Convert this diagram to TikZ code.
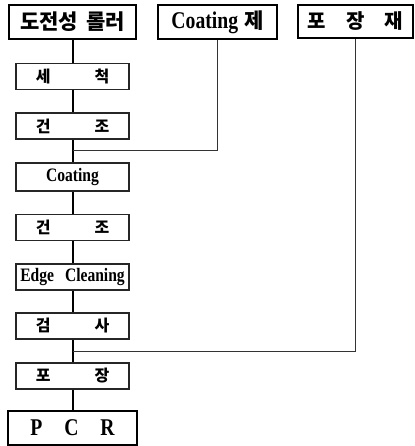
\documentclass[tikz,border=0pt]{standalone}
\usepackage{fontspec}
\setmainfont{Liberation Serif}
\newfontfamily\tnr[FakeStretch=0.82]{Liberation Serif}
\newfontfamily\kr{Noto Sans CJK KR}
\begin{document}
\begin{tikzpicture}[x=1pt,y=-1pt,
  bigbox/.style={draw=black,line width=1.6pt,inner sep=0pt,minimum height=34pt},
  smallbox/.style={draw=black!85,line width=1.3pt,inner sep=0pt,minimum width=113pt,minimum height=26pt},
  mainline/.style={line width=2pt,black},
  sideline/.style={line width=1pt,black!80},
  krbig/.style={font=\kr\bfseries\fontsize{21}{21}\selectfont},
  krsmall/.style={font=\kr\bfseries\fontsize{16}{16}\selectfont},
  lat/.style={font=\tnr\bfseries\fontsize{19}{19}\selectfont},
  latbig/.style={font=\tnr\bfseries\fontsize{24}{24}\selectfont}]
\useasboundingbox (0,0) rectangle (414,446);
\node[bigbox,minimum width=127pt,krbig] (roller) at (72.5,22) {도전성\hspace{8pt}롤러};
\node[bigbox,minimum width=119pt] (coatmat) at (217.5,22) {{\tnr\bfseries\fontsize{24}{24}\selectfont Coating}\hspace{6pt}{\kr\bfseries\fontsize{21}{21}\selectfont 제}};
\node[bigbox,minimum width=115pt,minimum height=33pt] (packmat) at (355.5,21.5) {{\kr\bfseries\fontsize{20}{20}\selectfont 포\hspace{20pt}장\hspace{20pt}재}};
\node[smallbox,krsmall] (wash) at (72.5,76.5) {세\hspace{44pt}척};
\node[smallbox,krsmall] (dry1) at (72.5,126) {건\hspace{44pt}조};
\node[smallbox,minimum height=28pt,lat] (coating) at (72.5,177) {Coating};
\node[smallbox,krsmall] (dry2) at (72.5,227.5) {건\hspace{44pt}조};
\node[smallbox,lat] (edge) at (72.5,277) {Edge\hspace{11pt}Cleaning};
\node[smallbox,krsmall] (insp) at (72.5,326) {검\hspace{44pt}사};
\node[smallbox,krsmall] (pack) at (72.5,376) {포\hspace{44pt}장};
\node[bigbox,minimum width=129pt,latbig] (pcr) at (72.5,428) {P\hspace{22pt}C\hspace{22pt}R};
\coordinate (j1) at (72.5,151);
\coordinate (j2) at (72.5,351);
\draw[mainline] (roller.south) -- (wash.north);
\draw[mainline] (wash.south) -- (dry1.north);
\draw[mainline] (dry1.south) -- (coating.north);
\draw[mainline] (coating.south) -- (dry2.north);
\draw[mainline] (dry2.south) -- (edge.north);
\draw[mainline] (edge.south) -- (insp.north);
\draw[mainline] (insp.south) -- (pack.north);
\draw[mainline] (pack.south) -- (pcr.north);
\draw[sideline] (coatmat.south) |- (j1);
\draw[sideline] (packmat.south) |- (j2);
\end{tikzpicture}
\end{document}
